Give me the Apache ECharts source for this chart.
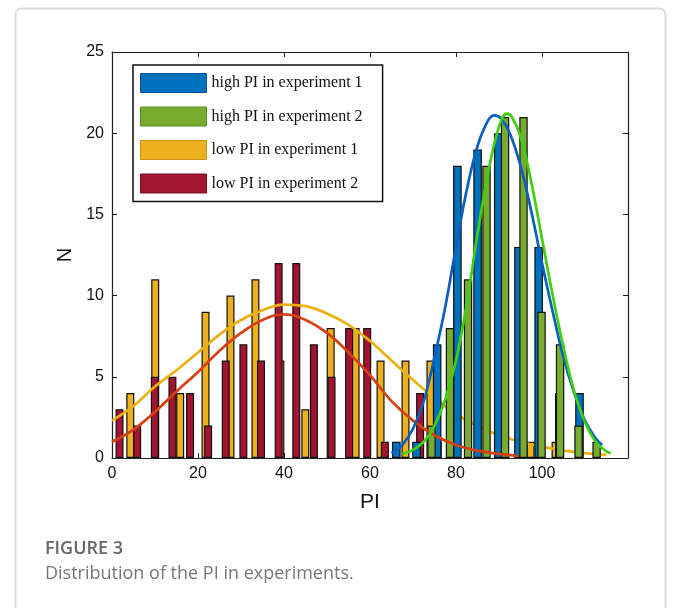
<!DOCTYPE html>
<html>
<head>
<meta charset="utf-8">
<script src="https://cdn.jsdelivr.net/npm/echarts@6/dist/echarts.min.js"></script>
<style>html,body{margin:0;padding:0;background:#fff;}#c{width:680px;height:608px;}</style>
</head>
<body>
<div id="c"></div>
<script>
// ---- data ----
const xTicks = [0, 20, 40, 60, 80, 100];
const yTicks = [0, 5, 10, 15, 20, 25];

const highExp1Centers = [66.1, 70.8, 75.6, 80.3, 85.0, 89.8, 94.5, 99.2, 104.0, 108.7];
const highExp1Counts  = [1, 1, 7, 18, 19, 20, 13, 13, 4, 4];

const highExp2Centers = [74.3, 78.6, 82.8, 87.1, 91.4, 95.7, 99.9, 104.2, 108.5, 112.7];
const highExp2Counts  = [2, 8, 11, 18, 21, 21, 9, 7, 2, 1];

const lowExp1Centers = [4.3, 10.1, 15.9, 21.8, 27.6, 33.4, 39.2, 45.0, 50.9, 56.7, 62.5, 68.3, 74.1, 79.9, 85.8, 91.6, 97.4, 103.2];
const lowExp1Counts  = [4, 11, 4, 9, 10, 11, 6, 3, 8, 8, 6, 6, 6, 3, 0, 0, 1, 1];

const lowExp2Centers = [1.8, 5.9, 10.0, 14.1, 18.2, 22.4, 26.5, 30.6, 34.7, 38.8, 42.9, 47.0, 51.1, 55.2, 59.4, 63.5, 67.6, 71.7, 75.8, 79.9];
const lowExp2Counts  = [3, 2, 5, 5, 4, 2, 6, 7, 6, 12, 12, 7, 5, 8, 8, 1, 0, 4, 1, 2];

// fitted curves, points
const lowExp1FitX = [0, 5, 10, 15, 20, 25, 30, 35, 40, 45, 50, 55, 60, 65, 70, 75, 80, 85, 90, 95, 100, 105, 110, 115];
const lowExp1FitY = [2.3, 3.2, 4.4, 5.4, 6.5, 7.6, 8.5, 9.1, 9.45, 9.35, 8.9, 8.2, 7.2, 6.0, 4.8, 3.7, 2.7, 2.0, 1.4, 1.0, 0.7, 0.45, 0.3, 0.2];

const lowExp2FitX = [0, 5, 10, 15, 20, 25, 30, 35, 40, 45, 50, 55, 60, 65, 70, 75, 80, 85, 90, 94.5];
const lowExp2FitY = [1.0, 1.75, 2.85, 4.1, 5.3, 6.6, 7.7, 8.5, 8.85, 8.5, 7.7, 6.5, 5.1, 3.5, 2.3, 1.4, 0.8, 0.45, 0.25, 0.12];

const highExp1FitX = [65, 67.5, 70, 72.5, 75, 77.5, 80, 82.5, 85, 87.5, 89, 90.5, 92.5, 95, 97.5, 100, 102.5, 105, 107.5, 110, 112.5, 114];
const highExp1FitY = [0.3, 0.8, 1.8, 3.5, 6.2, 9.3, 13.0, 16.5, 19.2, 20.8, 21.1, 20.9, 20.0, 18.0, 15.2, 12.0, 9.0, 6.2, 4.0, 2.3, 1.2, 0.8];

const highExp2FitX = [67.5, 70, 72.5, 75, 77.5, 80, 82.5, 85, 87.5, 90, 91.8, 93, 95, 97.5, 100, 102.5, 105, 107.5, 110, 112.5, 115, 116];
const highExp2FitY = [0.25, 0.5, 1.0, 2.0, 3.6, 6.0, 9.5, 13.8, 17.6, 20.4, 21.2, 21.0, 19.8, 17.0, 13.5, 10.0, 6.8, 4.1, 2.2, 1.0, 0.4, 0.3];

const names = ['high PI in experiment 1', 'high PI in experiment 2', 'low PI in experiment 1', 'low PI in experiment 2'];
const axisTitleX = 'PI';
const axisTitleY = 'N';
const captionTitle = 'FIGURE 3';
const captionText = 'Distribution of the PI in experiments.';

// ---- styling ----
const C = { blue: '#0072BD', green: '#77AC30', yellow: '#EDB120', red: '#A2142F' };
const L = { blue: '#0a5fc0', green: '#40cf12', yellow: '#ebb012', red: '#d8400f' };

const zip = (xs, ys) => xs.map((x, i) => [x, ys[i]]);

function barSeries(name, xs, ys, color, width, z) {
  return {
    name: name, type: 'bar', data: zip(xs, ys), barWidth: width, barGap: '-100%',
    itemStyle: { color: color, borderColor: '#111', borderWidth: 1.2 },
    z: z, silent: true, animation: false
  };
}
function lineSeries(xs, ys, color, z) {
  return {
    type: 'line', data: zip(xs, ys), smooth: 0.4, showSymbol: false, symbol: 'none',
    lineStyle: { color: color, width: 2.7 }, z: z, silent: true, animation: false
  };
}

const chart = echarts.init(document.getElementById('c'), null, { renderer: 'canvas' });
const xMin = 0, xMax = 120, yMin = 0, yMax = 25;
const tickStyle = { show: true, inside: true, length: 5, lineStyle: { color: '#222', width: 1 } };
const labelFont = { fontFamily: 'Liberation Sans, Arial, sans-serif', fontSize: 16, color: '#111' };

const option = {
  animation: false,
  backgroundColor: '#fff',
  grid: { left: 112, right: 52, top: 52, bottom: 150, containLabel: false },
  legend: {
    orient: 'vertical', left: 133, top: 65,
    data: [
      { name: names[0], itemStyle: { color: C.blue, borderColor: '#0b4f9a', borderWidth: 1 } },
      { name: names[1], itemStyle: { color: C.green, borderColor: '#5a8a20', borderWidth: 1 } },
      { name: names[2], itemStyle: { color: C.yellow, borderColor: '#c89410', borderWidth: 1 } },
      { name: names[3], itemStyle: { color: C.red, borderColor: '#7a0e22', borderWidth: 1 } }
    ],
    icon: 'rect', itemWidth: 66, itemHeight: 19, itemGap: 13.5,
    padding: [8, 20, 8, 7],
    borderColor: '#111', borderWidth: 1.5, backgroundColor: '#fff',
    selectedMode: false,
    textStyle: { fontFamily: 'Liberation Serif, Times New Roman, serif', fontSize: 16, color: '#111' },
    z: 20
  },
  xAxis: [
    {
      type: 'value', min: xMin, max: xMax, interval: 20, position: 'bottom',
      name: axisTitleX, nameLocation: 'middle', nameGap: 34,
      nameTextStyle: { fontFamily: 'Liberation Sans, Arial, sans-serif', fontSize: 21, color: '#111' },
      axisLine: { show: true, onZero: false, lineStyle: { color: '#222', width: 1.2 } },
      axisTick: tickStyle,
      axisLabel: Object.assign({ margin: 8, formatter: v => xTicks.indexOf(v) >= 0 ? String(v) : '' }, labelFont),
      splitLine: { show: false }
    },
    {
      type: 'value', min: xMin, max: xMax, interval: 20, position: 'top',
      axisLine: { show: true, onZero: false, lineStyle: { color: '#222', width: 1.2 } },
      axisTick: tickStyle, axisLabel: { show: false }, splitLine: { show: false }
    }
  ],
  yAxis: [
    {
      type: 'value', min: yMin, max: yMax, interval: 5, position: 'left',
      name: axisTitleY, nameLocation: 'middle', nameGap: 36, nameRotate: 90,
      nameTextStyle: { fontFamily: 'Liberation Sans, Arial, sans-serif', fontSize: 20, color: '#111' },
      axisLine: { show: true, onZero: false, lineStyle: { color: '#222', width: 1.2 } },
      axisTick: tickStyle,
      axisLabel: Object.assign({ margin: 8, formatter: v => yTicks.indexOf(v) >= 0 ? String(v) : '' }, labelFont),
      splitLine: { show: false }
    },
    {
      type: 'value', min: yMin, max: yMax, interval: 5, position: 'right',
      axisLine: { show: true, onZero: false, lineStyle: { color: '#222', width: 1.2 } },
      axisTick: tickStyle, axisLabel: { show: false }, splitLine: { show: false }
    }
  ],
  series: [
    barSeries(names[2], lowExp1Centers, lowExp1Counts, C.yellow, 8, 2),
    barSeries(names[3], lowExp2Centers, lowExp2Counts, C.red, 8, 3),
    lineSeries(lowExp1FitX, lowExp1FitY, L.yellow, 4),
    barSeries(names[0], highExp1Centers, highExp1Counts, C.blue, 8.6, 5),
    barSeries(names[1], highExp2Centers, highExp2Counts, C.green, 8.4, 6),
    lineSeries(lowExp2FitX, lowExp2FitY, L.red, 7),
    lineSeries(highExp1FitX, highExp1FitY, L.blue, 8),
    lineSeries(highExp2FitX, highExp2FitY, L.green, 9)
  ],
  graphic: [
    { type: 'rect', left: 13, top: 6, shape: { width: 650, height: 640, r: 6 },
      style: { fill: 'none', stroke: '#dcdcdc', lineWidth: 2 }, silent: true, z: -1 },
    { type: 'text', left: 45, top: 540,
      style: { text: captionTitle, font: '600 18px "Open Sans", "Noto Sans", sans-serif', fill: '#666' } },
    { type: 'text', left: 45, top: 565,
      style: { text: captionText, font: '400 18px "Open Sans", "Noto Sans", sans-serif', fill: '#777' } }
  ]
};
chart.setOption(option);
</script>
</body>
</html>
